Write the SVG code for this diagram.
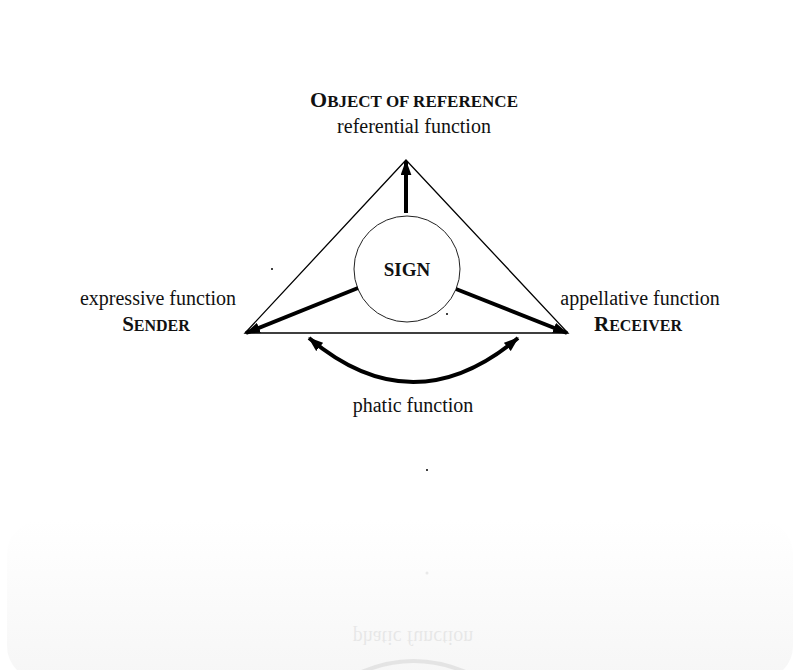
<svg xmlns="http://www.w3.org/2000/svg" width="800" height="670" viewBox="0 0 800 670">
<style>
.t{font-family:"Liberation Serif","DejaVu Serif",serif;font-size:20px;fill:#111;text-anchor:middle}
.sc{font-family:"Liberation Serif","DejaVu Serif",serif;font-weight:bold;fill:#111;text-anchor:middle;font-size:16px}
.big{font-size:21px}
.thick{stroke:#000;stroke-width:4;fill:none}
</style>
<defs>
<marker id="ah" viewBox="0 0 14 10" refX="13" refY="5" markerWidth="15" markerHeight="11" markerUnits="userSpaceOnUse" orient="auto-start-reverse">
<path d="M0,0 L14,5 L0,10 Z" fill="#000"/>
</marker>
<linearGradient id="fade" x1="0" y1="0" x2="0" y2="1">
<stop offset="0" stop-color="#fff"/>
<stop offset="1" stop-color="#f6f6f6"/>
</linearGradient>
<clipPath id="below"><rect x="0" y="521" width="800" height="149"/></clipPath>
</defs>
<rect width="800" height="670" fill="#fff"/>
<g id="reflection">
<rect x="7" y="520" width="786" height="160" rx="34" fill="url(#fade)"/>
<g clip-path="url(#below)">
<g opacity="0.07" transform="translate(0,1043) scale(1,-1)">
<text class="t" x="413" y="412">phatic function</text>
<circle cx="427" cy="470" r="1.5" fill="#000"/>
<path d="M310,338 Q413,426 518,338" class="thick"/>
</g>
</g>
</g>
<g id="triangle">
<polygon points="406,160 245,333 568,333" fill="none" stroke="#000" stroke-width="1.3"/>
</g>
<g id="sign">
<circle cx="407" cy="269" r="53" fill="#fff" stroke="#222" stroke-width="1"/>
<text class="sc" style="font-size:19px" x="407" y="276">SIGN</text>
</g>
<g id="connectors">
<line x1="406" y1="213" x2="406" y2="161" class="thick" marker-end="url(#ah)"/>
<line x1="358" y1="288" x2="246" y2="333" class="thick" marker-end="url(#ah)"/>
<line x1="456" y1="289" x2="567" y2="333" class="thick" marker-end="url(#ah)"/>
<path d="M309,338 Q413,426 518,338" class="thick" marker-start="url(#ah)" marker-end="url(#ah)"/>
</g>
<g id="object">
<text class="sc" style="font-size:17px" x="414" y="107"><tspan class="big" style="font-size:22px">O</tspan>BJECT OF REFERENCE</text>
<text class="t" x="414" y="133">referential function</text>
</g>
<g id="sender">
<text class="t" x="158" y="305">expressive function</text>
<text class="sc" x="156" y="331"><tspan class="big">S</tspan>ENDER</text>
</g>
<g id="receiver">
<text class="t" x="640" y="305">appellative function</text>
<text class="sc" x="638" y="331"><tspan class="big">R</tspan>ECEIVER</text>
</g>
<g id="phatic">
<text class="t" x="413" y="412">phatic function</text>
</g>
<g id="dots" fill="#000">
<circle cx="272" cy="269" r="1"/>
<circle cx="447" cy="314" r="1"/>
<circle cx="427" cy="470" r="1"/>
</g>
</svg>
